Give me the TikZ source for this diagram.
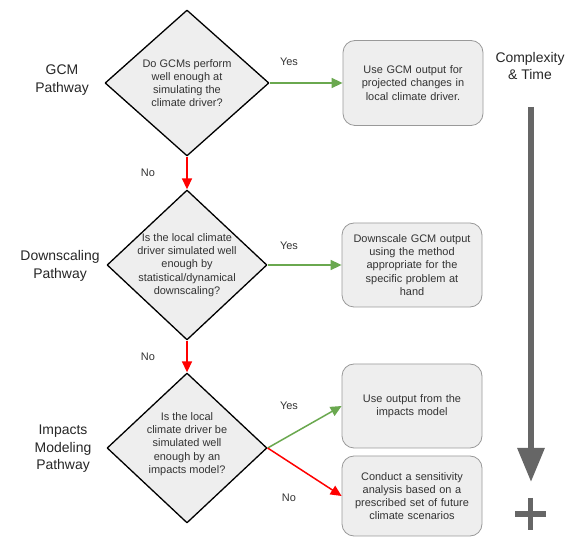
\documentclass[tikz,border=0pt]{standalone}
\usepackage{fontspec}
\setmainfont{Liberation Sans}
\usepackage{tikz}
\usetikzlibrary{arrows.meta,shapes.geometric}

\definecolor{yesgreen}{HTML}{6AA84F}
\definecolor{nored}{HTML}{FF0000}
\definecolor{boxgray}{HTML}{EEEEEE}
\definecolor{edgegray}{HTML}{999999}
\definecolor{txtgray}{HTML}{333333}
\definecolor{bargray}{HTML}{666666}

\begin{document}
\begin{tikzpicture}[>={Triangle[length=11bp,width=10bp]},join=bevel,]
\tikzstyle{question}=[diamond,draw=black,line width=1.3bp,fill=boxgray,inner sep=0pt,minimum width=162bp,minimum height=148bp]%
\tikzstyle{qtext}=[text=txtgray,align=center,font=\fontsize{11}{13.3}\selectfont]%
\tikzstyle{answer}=[rectangle,rounded corners=12bp,draw=edgegray,line width=0.8bp,fill=boxgray,minimum width=140bp,minimum height=84bp,text width=130bp,align=center,text=txtgray,font=\fontsize{11}{13.3}\selectfont]%
\tikzstyle{pathway}=[align=center,text=black!85,font=\fontsize{14}{17.5}\selectfont]%
\tikzstyle{lbl}=[text=txtgray,font=\fontsize{11}{13}\selectfont]%
\tikzstyle{yes}=[->,draw=yesgreen,line width=1.5bp]%
\tikzstyle{no}=[->,draw=nored,line width=1.5bp]%
  \useasboundingbox [fill=white] (0bp,0bp) rectangle (567bp,538bp);

  \node (gcm) at (62bp,458bp) [pathway] {GCM\\Pathway};
  \node (down) at (60bp,272bp) [pathway] {Downscaling\\Pathway};
  \node (imp) at (63bp,89bp) [pathway] {Impacts\\Modeling\\Pathway};

  \node (q1) at (187bp,455bp) [question,minimum width=164bp,minimum height=146bp,
    label={[qtext]center:{Do GCMs perform\\well enough at\\simulating the\\climate driver?}}] {};
  \node (q2) at (187bp,273bp) [question,minimum width=160bp,minimum height=150bp,
    label={[qtext]center:{Is the local climate\\driver simulated well\\enough by\\statistical/dynamical\\downscaling?}}] {};
  \node (q3) at (187bp,90bp) [question,minimum width=160bp,minimum height=150bp,
    label={[qtext,yshift=4bp]center:{Is the local\\climate driver be\\simulated well\\enough by an\\impacts model?}}] {};

  \node (a1) at (413bp,455bp) [answer,minimum height=85bp] {Use GCM output for\\projected changes in\\local climate driver.};
  \node (a2) at (412bp,273bp) [answer] {Downscale GCM output\\using the method\\appropriate for the\\specific problem at\\hand};
  \node (a3) at (412bp,132bp) [answer] {Use output from the\\impacts model};
  \node (a4) at (412bp,42bp) [answer,minimum height=80bp] {Conduct a sensitivity\\analysis based on a\\prescribed set of future\\climate scenarios};

  \draw [yes] (q1) -- (a1);
  \draw [yes] (q2) -- (a2);
  \draw [yes] (q3.east) -- (a3.west);
  \draw [no] (q1) -- (q2);
  \draw [no] (q2) -- (q3);
  \draw [no] (q3.east) -- (a4.west);

  \node (yes1) at (289bp,476bp) [lbl] {Yes};
  \node (yes2) at (289bp,292bp) [lbl] {Yes};
  \node (yes3) at (289bp,132bp) [lbl] {Yes};
  \node (no1) at (148bp,365bp) [lbl] {No};
  \node (no2) at (148bp,181bp) [lbl] {No};
  \node (no3) at (289bp,40bp) [lbl] {No};

  % complexity scale on the right
  \node (ct) at (530bp,472bp) [pathway] {Complexity\\\& Time};
  \coordinate (bartop) at (531bp,431bp);
  \coordinate (bartip) at (531bp,56bp);
  \draw [bargray,line width=6bp,-{Triangle[length=34bp,width=26bp]}] (bartop) -- (bartip);
  \coordinate (plus) at (530.5bp,24bp);
  \draw [bargray,line width=5.5bp] ([xshift=-15.5bp]plus) -- ([xshift=15.5bp]plus)
    ([yshift=16bp]plus) -- ([yshift=-16bp]plus);
\end{tikzpicture}
\end{document}
